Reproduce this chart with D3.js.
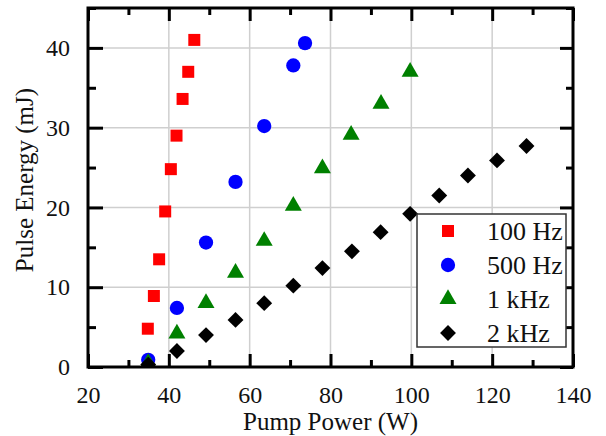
<!DOCTYPE html>
<html><head><meta charset="utf-8">
<script src="https://cdn.jsdelivr.net/npm/d3@7"></script>
<style>body{margin:0;background:#fff}svg{display:block}</style>
</head><body>
<svg id="c" width="606" height="436"></svg>
<script>
const xTicks = [20, 40, 60, 80, 100, 120, 140];
const yTicks = [0, 10, 20, 30, 40];
const seriesNames = ["100 Hz", "500 Hz", "1 kHz", "2 kHz"];
const power100 = [34.8, 36.3, 37.6, 39.1, 40.5, 41.9, 43.4, 44.8, 46.3];
const energy100 = [4.8, 8.9, 13.5, 19.5, 24.8, 29.0, 33.6, 37.0, 41.0];
const power500 = [34.9, 42.0, 49.2, 56.5, 63.6, 70.8, 73.7];
const energy500 = [0.9, 7.4, 15.6, 23.2, 30.2, 37.8, 40.6];
const power1k = [34.9, 42.0, 49.2, 56.5, 63.6, 70.8, 78.0, 85.1, 92.5, 99.7];
const energy1k = [0.5, 4.2, 8.0, 11.8, 15.8, 20.2, 24.9, 29.1, 33.0, 37.0];
const power2k = [34.9, 42.0, 49.2, 56.5, 63.6, 70.8, 78.0, 85.3, 92.4, 99.7, 106.9, 114.0, 121.2, 128.5];
const energy2k = [0.3, 2.0, 4.0, 5.9, 8.0, 10.2, 12.4, 14.5, 16.9, 19.2, 21.5, 24.0, 25.9, 27.7];

const FONT = "'Liberation Serif'";
const W = 606, H = 436;
const m = {l: 88, r: 33, t: 8, b: 69};
const svg = d3.select("#c");
const x = d3.scaleLinear().domain([20, 140]).range([m.l, W - m.r]);
const y = d3.scaleLinear().domain([0, 45]).range([H - m.b, m.t]);
const x0 = m.l, x1 = W - m.r, y0 = H - m.b, y1 = m.t;

// grid
const g = svg.append("g");
g.selectAll(".gx").data(xTicks.filter(v => v > 20 && v < 140)).join("line")
  .attr("x1", d => x(d)).attr("x2", d => x(d)).attr("y1", y0).attr("y2", y1)
  .attr("stroke", "#cfcfcf").attr("stroke-width", 1.5);
g.selectAll(".gy").data(yTicks.filter(v => v > 0)).join("line")
  .attr("y1", d => y(d)).attr("y2", d => y(d)).attr("x1", x0).attr("x2", x1)
  .attr("stroke", "#cfcfcf").attr("stroke-width", 1.5);

// markers
svg.append("clipPath").attr("id", "clip").append("rect")
  .attr("x", x0).attr("y", y1).attr("width", x1 - x0).attr("height", y0 - y1);
const series = [
  {name: seriesNames[0], xs: power100, ys: energy100, color: "#ff0000", type: d3.symbolSquare, size: 144, rot: 0},
  {name: seriesNames[1], xs: power500, ys: energy500, color: "#0000ff", type: d3.symbolCircle, size: 160, rot: 0},
  {name: seriesNames[2], xs: power1k, ys: energy1k, color: "#008000", type: d3.symbolTriangle, size: 125, rot: 0},
  {name: seriesNames[3], xs: power2k, ys: energy2k, color: "#000000", type: d3.symbolSquare, size: 126, rot: 45}
];
const mk = svg.append("g").attr("clip-path", "url(#clip)");
series.forEach(s => {
  const pts = s.xs.map((v, i) => [v, s.ys[i]]);
  mk.append("g").selectAll("path").data(pts).join("path")
    .attr("d", d3.symbol().type(s.type).size(s.size))
    .attr("transform", d => `translate(${x(d[0])},${y(d[1])}) rotate(${s.rot})`)
    .attr("fill", s.color);
});

// axes with inward ticks
function tickAxis(axisGen, tr) {
  return svg.append("g").attr("transform", tr).call(axisGen)
    .call(a => a.select(".domain").remove())
    .call(a => a.selectAll("line").attr("stroke", "#000").attr("stroke-width", 3));
}
const xMinor = d3.range(30, 140, 20);
const yMinor = d3.range(5, 46, 10);
const bx = tickAxis(d3.axisBottom(x).tickValues(xTicks).tickSize(-13).tickPadding(19).tickFormat(d3.format("d")), `translate(0,${y0})`);
bx.selectAll("text").style("font-family", FONT).style("font-size", "24px").attr("fill", "#111");
tickAxis(d3.axisBottom(x).tickValues(xMinor).tickSize(-7).tickFormat(""), `translate(0,${y0})`);
tickAxis(d3.axisTop(x).tickValues(xTicks).tickSize(-13).tickFormat(""), `translate(0,${y1})`);
tickAxis(d3.axisTop(x).tickValues(xMinor).tickSize(-7).tickFormat(""), `translate(0,${y1})`);
const ly = tickAxis(d3.axisLeft(y).tickValues(yTicks).tickSize(-15).tickPadding(18).tickFormat(d3.format("d")), `translate(${x0},0)`);
ly.selectAll("text").style("font-family", FONT).style("font-size", "24px").attr("fill", "#111");
tickAxis(d3.axisLeft(y).tickValues(yMinor).tickSize(-8).tickFormat(""), `translate(${x0},0)`);
tickAxis(d3.axisRight(y).tickValues(yTicks).tickSize(-13).tickFormat(""), `translate(${x1},0)`);
tickAxis(d3.axisRight(y).tickValues(yMinor).tickSize(-7).tickFormat(""), `translate(${x1},0)`);

// frame
svg.append("rect").attr("x", x0).attr("y", y1).attr("width", x1 - x0).attr("height", y0 - y1)
  .attr("fill", "none").attr("stroke", "#000").attr("stroke-width", 3);

// titles
svg.append("text").attr("x", (x0 + x1) / 2).attr("y", 430).attr("text-anchor", "middle").attr("fill", "#111")
  .style("font-family", FONT).style("font-size", "25px").text("Pump Power (W)");
svg.append("text").attr("transform", "translate(33,180) rotate(-90)").attr("text-anchor", "middle").attr("fill", "#111")
  .style("font-family", FONT).style("font-size", "25px").text("Pulse Energy (mJ)");

// legend
const lg = svg.append("g");
lg.append("rect").attr("x", 417).attr("y", 214).attr("width", 149).attr("height", 133)
  .attr("fill", "#fff").attr("stroke", "#333").attr("stroke-width", 1.5);
series.forEach((s, i) => {
  const cy = 231 + i * 34;
  lg.append("path").attr("d", d3.symbol().type(s.type).size(s.size))
    .attr("transform", `translate(448,${cy}) rotate(${s.rot})`).attr("fill", s.color);
  lg.append("text").attr("x", 487).attr("y", cy + 9).attr("fill", "#111")
    .style("font-family", FONT).style("font-size", "26px").text(s.name);
});
</script>
</body></html>
